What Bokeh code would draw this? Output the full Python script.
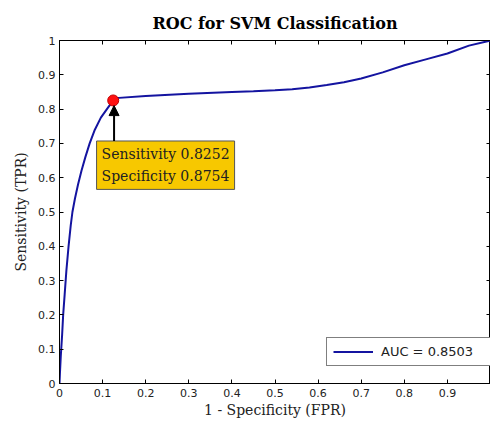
from bokeh.plotting import figure
from bokeh.models import (Label, Arrow, NormalHead, LinearAxis, FixedTicker,
                          Range1d, Legend, LegendItem)
from bokeh.embed import file_html
from bokeh.resources import INLINE

# ---- data ----
fpr = [0.0, 0.001, 0.003, 0.006, 0.0085, 0.012, 0.016, 0.021, 0.026, 0.030,
       0.036, 0.043, 0.051, 0.060, 0.070, 0.082, 0.096, 0.11, 0.1246, 0.13,
       0.2, 0.3, 0.4, 0.45, 0.5, 0.54, 0.58, 0.62, 0.66, 0.7, 0.75, 0.8,
       0.85, 0.9, 0.95, 1.0]
tpr = [0.0, 0.03, 0.08, 0.14, 0.2, 0.26, 0.33, 0.4, 0.46, 0.5,
       0.54, 0.58, 0.62, 0.66, 0.70, 0.74, 0.775, 0.80, 0.8252, 0.832,
       0.838, 0.845, 0.85, 0.852, 0.855, 0.858, 0.863, 0.870, 0.878, 0.889,
       0.907, 0.928, 0.945, 0.962, 0.985, 1.0]
op_fpr = [0.1246]
op_tpr = [0.8252]
sensitivity = 0.8252
specificity = 0.8754
auc = 0.8503
x_ticks = [0, 0.1, 0.2, 0.3, 0.4, 0.5, 0.6, 0.7, 0.8, 0.9]
y_ticks = [0, 0.1, 0.2, 0.3, 0.4, 0.5, 0.6, 0.7, 0.8, 0.9, 1.0]

SERIF = "DejaVu Serif"
SANS = "DejaVu Sans"

p = figure(width=490, height=423, output_backend="svg", toolbar_location=None,
           x_range=Range1d(0, 1), y_range=Range1d(0, 1),
           min_border_left=59, min_border_right=0, min_border_top=40,
           min_border_bottom=40, title="ROC for SVM Classification")
p.title.text_font = SERIF
p.title.text_font_style = "bold"
p.title.text_font_size = "16px"
p.title.align = "center"
p.title.text_color = "#000000"
p.title.standoff = 16

p.grid.visible = False
p.outline_line_color = "#000000"
p.outline_line_width = 1
p.background_fill_color = "white"
p.border_fill_color = "white"

def style_axis(ax, ticks, show_labels):
    ax.ticker = FixedTicker(ticks=ticks)
    ax.major_tick_in = 4
    ax.major_tick_out = 0
    ax.minor_tick_line_color = None
    ax.axis_line_color = "#000000"
    ax.major_tick_line_color = "#000000"
    ax.major_label_text_font = SANS
    ax.major_label_text_font_size = "11px"
    ax.major_label_text_color = "#222222"
    if not show_labels:
        ax.major_label_text_color = None
        ax.major_label_standoff = 0

xa = p.xaxis[0]
ya = p.yaxis[0]
style_axis(xa, x_ticks, True)
style_axis(ya, y_ticks, True)
xa.major_label_overrides = {0: "0"}
ya.major_label_overrides = {0: "0", 1: "1"}
xa.major_label_standoff = 5
ya.major_label_standoff = 4
xa.axis_label = "1 - Specificity (FPR)"
ya.axis_label = "Sensitivity (TPR)"
for ax in (xa, ya):
    ax.axis_label_text_font = SERIF
    ax.axis_label_text_font_style = "normal"
    ax.axis_label_text_font_size = "14px"
    ax.axis_label_text_color = "#222222"
xa.axis_label_standoff = 2
ya.axis_label_standoff = 6

top = LinearAxis()
style_axis(top, x_ticks, False)
p.add_layout(top, "above")
right = LinearAxis()
style_axis(right, y_ticks, False)
p.add_layout(right, "right")

line = p.line(fpr, tpr, line_color="#1414A0", line_width=2)
p.scatter(op_fpr, op_tpr, size=11, fill_color="#FF1010", line_color="#C00000")

legend = Legend(items=[LegendItem(label="AUC = %.4f" % auc, renderers=[line])],
                location=(267, 17), border_line_color="#000000",
                border_line_width=1, background_fill_alpha=1,
                label_text_font=SANS, label_text_font_size="13px",
                label_text_color="#222222", glyph_width=40, glyph_height=15,
                label_width=103, padding=6, label_standoff=8, margin=0,
                spacing=0)
p.add_layout(legend, "center")

box = Label(x=0.086, y=0.707,
            text="Sensitivity %.4f\nSpecificity %.4f" % (sensitivity, specificity),
            text_font=SERIF, text_font_size="14px", text_color="#222222",
            text_baseline="top", background_fill_color="#F7C800",
            border_line_color="#555555", padding=5, text_line_height=1.4)
p.add_layout(box)

p.add_layout(Arrow(end=NormalHead(size=10, fill_color="black", line_color="black"),
                   x_start=op_fpr[0] + 0.002, y_start=0.707,
                   x_end=op_fpr[0] + 0.002, y_end=op_tpr[0] - 0.015,
                   line_color="black", line_width=2))

open("out.html", "w").write(file_html(p, INLINE))
